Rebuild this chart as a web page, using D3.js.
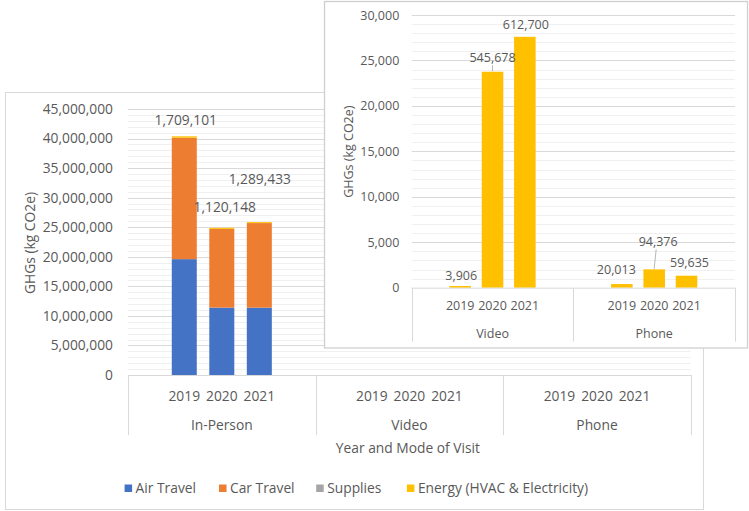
<!DOCTYPE html>
<html>
<head>
<meta charset="utf-8">
<script src="https://cdn.jsdelivr.net/npm/d3@7"></script>
<style>
  html, body { margin: 0; padding: 0; background: #ffffff; }
  svg { display: block; }
  text { font-family: "Open Sans", "Noto Sans", sans-serif; fill: #595959; }
</style>
</head>
<body>
<svg id="chart" width="749" height="511"></svg>
<script>
// ---------------- data ----------------
const years = ["2019", "2020", "2021"];
const modes = ["In-Person", "Video", "Phone"];
const seriesNames = ["Air Travel", "Car Travel", "Supplies", "Energy (HVAC & Electricity)"];
const seriesColors = ["#4472C4", "#ED7D31", "#A5A5A5", "#FFC000"];

// values per (mode, year): In-Person 2019..2021, Video 2019..2021, Phone 2019..2021
const airTravel = [19600000, 11400000, 11400000, 0, 0, 0, 0, 0, 0];
const carTravel = [20500000, 13300000, 14300000, 0, 0, 0, 0, 0, 0];
const supplies  = [30000, 20000, 20000, 0, 0, 0, 0, 0, 0];
const energy    = [250000, 180000, 150000, 190, 23760, 27600, 400, 2020, 1320];

const mainTicks  = [0, 5000000, 10000000, 15000000, 20000000, 25000000, 30000000, 35000000, 40000000, 45000000];
const insetTicks = [0, 5000, 10000, 15000, 20000, 25000, 30000];

const inPersonLabels = ["1,709,101", "1,120,148", "1,289,433"];
const videoLabels    = ["3,906", "545,678", "612,700"];
const phoneLabels    = ["20,013", "94,376", "59,635"];

const xTitle = "Year and Mode of Visit";
const yTitle = "GHGs (kg CO2e)";

// ---------------- build table ----------------
const rows = [];
modes.forEach((m, i) => years.forEach((y, j) => {
  const k = i * 3 + j;
  rows.push({ mode: m, year: y,
    "Air Travel": airTravel[k], "Car Travel": carTravel[k],
    "Supplies": supplies[k], "Energy (HVAC & Electricity)": energy[k] });
}));

const svg = d3.select("#chart");
const fmt = d3.format(",");
const TXT = "#595959";
const GRID = "#d9d9d9";
const MINOR = "#f0f0f0";

// ================= MAIN CHART =================
const main = svg.append("g");
main.append("rect").attr("x", 5.5).attr("y", 92.5).attr("width", 698).attr("height", 417)
  .attr("fill", "#fff").attr("stroke", "#d9d9d9");

const mX0 = 128, mX1 = 690.8, mY0 = 375, mY1 = 109;
const y = d3.scaleLinear().domain([0, 45000000]).range([mY0, mY1]);
const xOuter = d3.scaleBand().domain(modes).range([mX0, mX1]);
const xInner = d3.scaleBand().domain(years).range([0, xOuter.bandwidth()])
  .paddingInner(1 / 3).paddingOuter(7 / 6);

// minor grid
main.append("g").selectAll("line").data(d3.range(0, 45000001, 1000000).filter(v => v % 5000000 !== 0))
  .join("line").attr("x1", mX0).attr("x2", mX1)
  .attr("y1", d => Math.round(y(d)) + 0.5).attr("y2", d => Math.round(y(d)) + 0.5)
  .attr("stroke", MINOR);
// major grid
main.append("g").selectAll("line").data(mainTicks.slice(1))
  .join("line").attr("x1", mX0).attr("x2", mX1)
  .attr("y1", d => Math.round(y(d)) + 0.5).attr("y2", d => Math.round(y(d)) + 0.5)
  .attr("stroke", GRID);

// y axis labels
const yAxis = main.append("g").attr("transform", `translate(113,0)`)
  .call(d3.axisLeft(y).tickValues(mainTicks).tickFormat(fmt).tickSize(0).tickPadding(0));
yAxis.select(".domain").remove();
yAxis.selectAll("text").attr("fill", TXT).style("font-size", "13.8px")
  .style("font-family", '"Open Sans", sans-serif');

// stacked bars
const stack = d3.stack().keys(seriesNames);
const stacked = stack(rows);
stacked.forEach((s, si) => {
  main.append("g").attr("fill", seriesColors[si]).selectAll("rect").data(s).join("rect")
    .attr("x", d => xOuter(d.data.mode) + xInner(d.data.year))
    .attr("width", xInner.bandwidth())
    .attr("y", d => y(d[1]))
    .attr("height", d => { const h = y(d[0]) - y(d[1]); return h < 0.5 ? 0 : h; });
});

// axis line at zero and category box
main.append("line").attr("x1", mX0).attr("x2", mX1).attr("y1", mY0 + 0.5).attr("y2", mY0 + 0.5)
  .attr("stroke", GRID);
const boxBottom = 435;
main.append("g").selectAll("line").data(modes.concat(["_end"])).join("line")
  .attr("x1", (d, i) => i < modes.length ? Math.round(xOuter(d)) + 0.5 : Math.round(mX1) + 0.5)
  .attr("x2", (d, i) => i < modes.length ? Math.round(xOuter(d)) + 0.5 : Math.round(mX1) + 0.5)
  .attr("y1", mY0).attr("y2", boxBottom).attr("stroke", GRID);

// year labels + group labels
modes.forEach(m => {
  main.append("g").selectAll("text").data(years).join("text")
    .attr("x", yr => xOuter(m) + xInner(yr) + xInner.bandwidth() / 2)
    .attr("y", 396).attr("dy", "0.35em").attr("text-anchor", "middle")
    .style("font-size", "13.8px").text(yr => yr);
  main.append("text").attr("x", xOuter(m) + xOuter.bandwidth() / 2).attr("y", 425)
    .attr("dy", "0.35em").attr("text-anchor", "middle").style("font-size", "13.8px").text(m);
});

// axis titles
main.append("text").attr("x", (mX0 + mX1) / 2 - 1.5).attr("y", 448).attr("dy", "0.35em")
  .attr("text-anchor", "middle").style("font-size", "13.8px").text(xTitle);
main.append("text").attr("transform", "translate(30,243) rotate(-90)").attr("dy", "0.35em")
  .attr("text-anchor", "middle").style("font-size", "13.8px").text(yTitle);

// in-person labels
const ipDx = [1.5, 3, 0.5], ipDy = [-16.5, -20.5, -42.5];
main.append("g").selectAll("text").data(rows.filter(r => r.mode === "In-Person")).join("text")
  .attr("x", (d, i) => xOuter(d.mode) + xInner(d.year) + xInner.bandwidth() / 2 + ipDx[i])
  .attr("y", (d, i) => y(d["Air Travel"] + d["Car Travel"] + d["Supplies"] + d["Energy (HVAC & Electricity)"]) + ipDy[i])
  .attr("dy", "0.35em").attr("text-anchor", "middle").style("font-size", "13.8px")
  .text((d, i) => inPersonLabels[i]);

// legend
const legX = [124.6, 219, 316.2, 406.9];
const leg = main.append("g");
seriesNames.forEach((s, i) => {
  leg.append("rect").attr("x", legX[i]).attr("y", 484.5).attr("width", 7.5).attr("height", 7.5)
    .attr("fill", seriesColors[i]);
  leg.append("text").attr("x", legX[i] + 11).attr("y", 488.3).attr("dy", "0.35em")
    .style("font-size", "13.8px").text(s);
});

// ================= INSET CHART =================
const inset = svg.append("g");
inset.append("rect").attr("x", 324.5).attr("y", 1.5).attr("width", 423).attr("height", 346.5)
  .attr("fill", "#fff").attr("stroke", "#cfcfcf").attr("stroke-width", 1.3);

const iX0 = 411.7, iX1 = 735, iY0 = 287.7, iY1 = 15;
const insetModes = modes.slice(1);
const yi = d3.scaleLinear().domain([0, 30000]).range([iY0, iY1]);
const xiOuter = d3.scaleBand().domain(insetModes).range([iX0, iX1]);
const xiInner = d3.scaleBand().domain(years).range([0, xiOuter.bandwidth()])
  .paddingInner(1 / 3).paddingOuter(7 / 6);

inset.append("g").selectAll("line").data(d3.range(0, 30001, 1000).filter(v => v % 5000 !== 0))
  .join("line").attr("x1", iX0).attr("x2", iX1)
  .attr("y1", d => Math.round(yi(d)) + 0.5).attr("y2", d => Math.round(yi(d)) + 0.5)
  .attr("stroke", MINOR);
inset.append("g").selectAll("line").data(insetTicks.slice(1))
  .join("line").attr("x1", iX0).attr("x2", iX1)
  .attr("y1", d => Math.round(yi(d)) + 0.5).attr("y2", d => Math.round(yi(d)) + 0.5)
  .attr("stroke", GRID);

const yiAxis = inset.append("g").attr("transform", `translate(399.3,0)`)
  .call(d3.axisLeft(yi).tickValues(insetTicks).tickFormat(fmt).tickSize(0).tickPadding(0));
yiAxis.select(".domain").remove();
yiAxis.selectAll("text").attr("fill", TXT).style("font-size", "12.5px")
  .style("font-family", '"Open Sans", sans-serif');

const insetRows = rows.filter(r => r.mode !== "In-Person");
inset.append("g").attr("fill", seriesColors[3]).selectAll("rect").data(insetRows).join("rect")
  .attr("x", d => xiOuter(d.mode) + xiInner(d.year))
  .attr("width", xiInner.bandwidth())
  .attr("y", d => yi(d["Energy (HVAC & Electricity)"]))
  .attr("height", d => iY0 - yi(d["Energy (HVAC & Electricity)"]));

inset.append("line").attr("x1", iX0).attr("x2", iX1).attr("y1", iY0 + 0.5).attr("y2", iY0 + 0.5)
  .attr("stroke", GRID);
inset.append("g").selectAll("line").data(insetModes.concat(["_end"])).join("line")
  .attr("x1", (d, i) => i < insetModes.length ? Math.round(xiOuter(d)) + 0.5 : Math.round(iX1) + 0.5)
  .attr("x2", (d, i) => i < insetModes.length ? Math.round(xiOuter(d)) + 0.5 : Math.round(iX1) + 0.5)
  .attr("y1", iY0).attr("y2", 341.7).attr("stroke", GRID);

insetModes.forEach(m => {
  inset.append("g").selectAll("text").data(years).join("text")
    .attr("x", yr => xiOuter(m) + xiInner(yr) + xiInner.bandwidth() / 2)
    .attr("y", 306).attr("dy", "0.35em").attr("text-anchor", "middle")
    .style("font-size", "12.5px").text(yr => yr);
  inset.append("text").attr("x", xiOuter(m) + xiOuter.bandwidth() / 2).attr("y", 333.3)
    .attr("dy", "0.35em").attr("text-anchor", "middle").style("font-size", "12.5px").text(m);
});

inset.append("text").attr("transform", "translate(348.3,151.7) rotate(-90)").attr("dy", "0.35em")
  .attr("text-anchor", "middle").style("font-size", "12.5px").text(yTitle);

// inset data labels
const insetLabels = videoLabels.concat(phoneLabels);
const ilDx = [1, 0, 1, -5.5, 4, 3];
const ilDy = [-10, -14.5, -12, -14, -28, -13];
const leaders = [false, true, false, false, true, false];
insetRows.forEach((d, i) => {
  const cx = xiOuter(d.mode) + xiInner(d.year) + xiInner.bandwidth() / 2;
  const top = yi(d["Energy (HVAC & Electricity)"]);
  if (leaders[i]) {
    inset.append("line").attr("x1", cx + ilDx[i] * 0.5).attr("y1", top + ilDy[i] + 8)
      .attr("x2", cx).attr("y2", top - 0.5).attr("stroke", "#a6a6a6").attr("stroke-width", 0.8);
  }
  inset.append("text").attr("x", cx + ilDx[i]).attr("y", top + ilDy[i]).attr("dy", "0.35em")
    .attr("text-anchor", "middle").style("font-size", "12.5px").text(insetLabels[i]);
});
</script>
</body>
</html>
